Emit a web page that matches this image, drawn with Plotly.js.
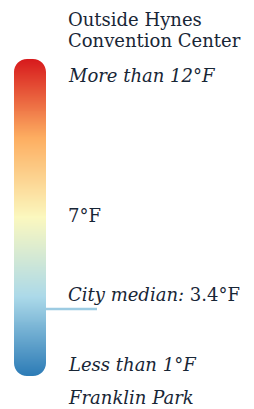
<!DOCTYPE html>
<html>
<head>
<meta charset="utf-8">
<script src="https://cdn.plot.ly/plotly-3.0.1.min.js"></script>
<style>
  html, body { margin: 0; padding: 0; background: #ffffff; }
  #chart { width: 254px; height: 409px; }
</style>
</head>
<body>
<div id="chart"></div>
<script>
// ---- data (°F) ----
const scaleRange = [0.86, 12.87];          // extent of the colour bar, °F
const colorStops = ['#2c7bb6', '#abd9e9', '#fbf8bf', '#fdae61', '#d7191c'];
const cityMedian = 3.4;
const labelValues = [12, 7, 3.4, 1];
const labelTexts = ['<i>More than 12°F</i>', '7°F', '<i>City median:</i> 3.4°F', '<i>Less than 1°F</i>'];
const topPlace = ['Outside Hynes', 'Convention Center'];
const bottomPlace = '<i>Franklin Park</i>';

// ---- gradient heatmap built from the scale range ----
const N = 320;
const yEdges = [], zRows = [];
for (let i = 0; i <= N; i++) yEdges.push(scaleRange[0] + (scaleRange[1] - scaleRange[0]) * i / N);
for (let i = 0; i < N; i++) zRows.push([(yEdges[i] + yEdges[i + 1]) / 2]);

const colorscale = colorStops.map((c, i) => [i / (colorStops.length - 1), c]);

const bar = {
  type: 'heatmap',
  x: [14, 46],
  y: yEdges,
  z: zRows,
  zmin: scaleRange[0],
  zmax: scaleRange[1],
  colorscale: colorscale,
  showscale: false,
  hoverinfo: 'skip'
};

// ---- layout ----
const W = 254, H = 409;
const textColor = '#182636';
const font = { family: 'DejaVu Serif, serif', size: 18, color: textColor };

function P(py) { return (1 - py / H).toFixed(5); }
const bx0 = 14, bx1 = 46, by0 = 59, by1 = 376, r = 13, k = 0.5523, e = 1.5;
function corner(cx, cy, sx, sy) {
  const ox = cx - sx * e, oy = cy - sy * e;
  return 'M ' + ox + ',' + P(oy) +
    ' L ' + (cx + sx * r) + ',' + P(oy) +
    ' L ' + (cx + sx * r) + ',' + P(cy) +
    ' C ' + (cx + sx * r * (1 - k)) + ',' + P(cy) + ' ' +
    cx + ',' + P(cy + sy * r * (1 - k)) + ' ' +
    cx + ',' + P(cy + sy * r) +
    ' L ' + ox + ',' + P(cy + sy * r) + ' Z';
}
const maskStyle = { type: 'path', xref: 'x', yref: 'paper', fillcolor: '#ffffff', line: { width: 0 }, layer: 'above' };
const shapes = [
  Object.assign({ path: corner(bx0, by0, 1, 1) }, maskStyle),
  Object.assign({ path: corner(bx1, by0, -1, 1) }, maskStyle),
  Object.assign({ path: corner(bx0, by1, 1, -1) }, maskStyle),
  Object.assign({ path: corner(bx1, by1, -1, -1) }, maskStyle),
  { type: 'line', xref: 'x', yref: 'y', x0: 46, x1: 97, y0: cityMedian, y1: cityMedian,
    line: { color: '#9ccbe2', width: 2.5 }, layer: 'below' }
];

const textX = 66;
const yShifts = [6, -1.5, 14.5, 8];
const annotations = labelValues.map((v, i) => ({
  x: textX, xref: 'x', xanchor: 'left',
  y: v, yref: 'y', yanchor: 'middle', yshift: yShifts[i],
  text: labelTexts[i], showarrow: false, font: font
}));
const topCenters = [19.5, 40.5];
topPlace.forEach((t, i) => annotations.push({
  x: textX, xref: 'x', xanchor: 'left',
  y: 1 - topCenters[i] / H, yref: 'paper', yanchor: 'middle',
  text: t, showarrow: false, font: font
}));
annotations.push({
  x: textX, xref: 'x', xanchor: 'left',
  y: 1 - 397.5 / H, yref: 'paper', yanchor: 'middle',
  text: bottomPlace, showarrow: false, font: font
});

// y axis in °F: 26.4 px per degree, median at pixel 309
const pxPerDeg = 26.4;
const yTop = cityMedian + 309 / pxPerDeg;
const yBottom = cityMedian - (H - 309) / pxPerDeg;

const layout = {
  width: W, height: H,
  margin: { l: 0, r: 0, t: 0, b: 0, pad: 0 },
  paper_bgcolor: '#ffffff', plot_bgcolor: '#ffffff',
  showlegend: false,
  xaxis: { range: [0, W], visible: false, fixedrange: true },
  yaxis: { range: [yBottom, yTop], visible: false, fixedrange: true },
  shapes: shapes,
  annotations: annotations
};

Plotly.newPlot('chart', [bar], layout, { staticPlot: true, displayModeBar: false });
</script>
</body>
</html>
